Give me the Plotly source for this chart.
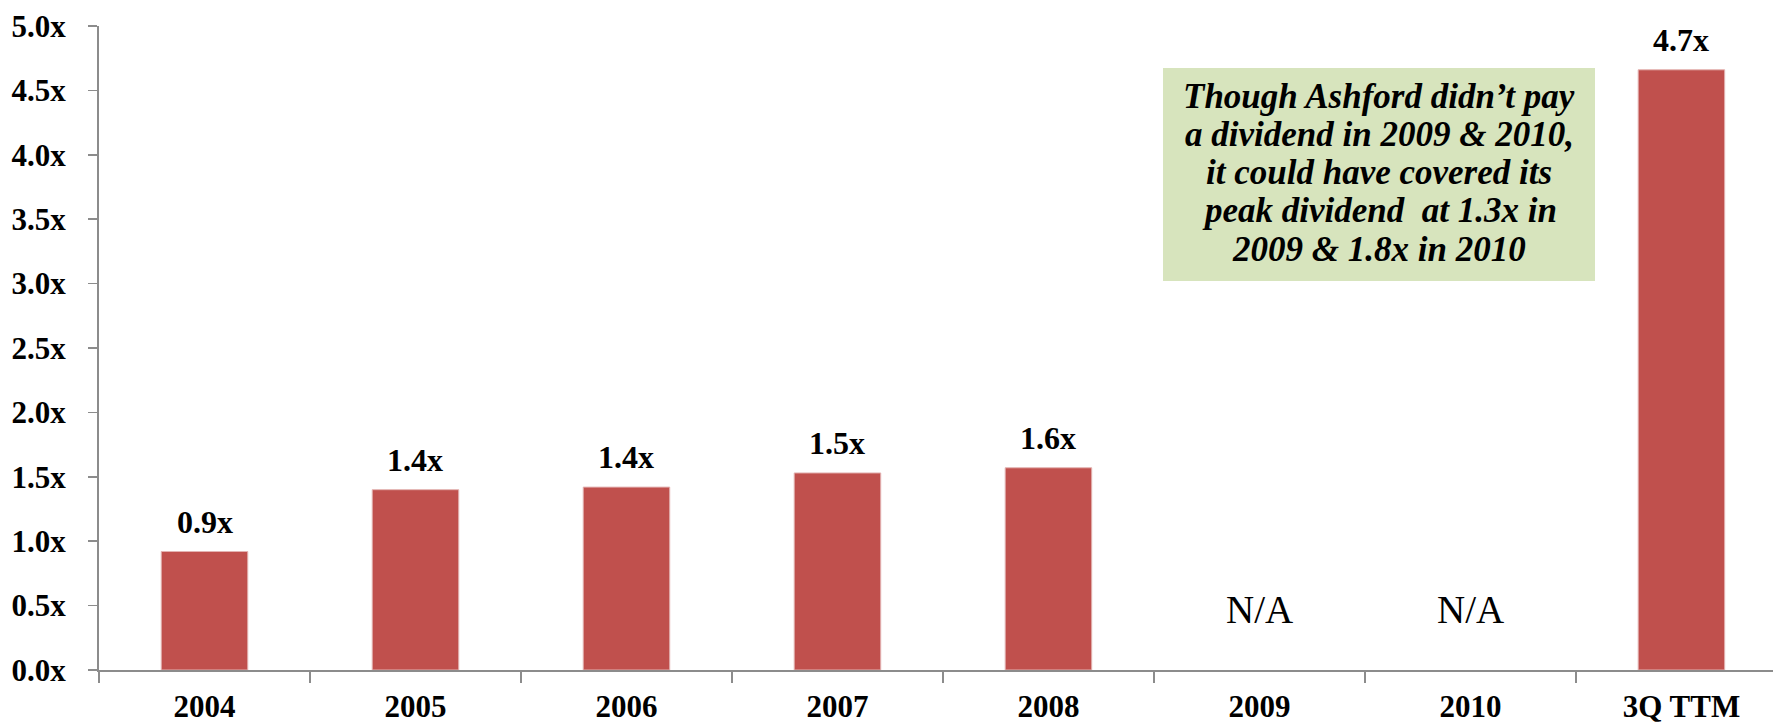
import plotly.graph_objects as go

categories = ["2004", "2005", "2006", "2007", "2008", "2009", "2010", "3Q TTM"]
coverage = [0.92, 1.40, 1.42, 1.53, 1.57, None, None, 4.66]
value_labels = ["0.9x", "1.4x", "1.4x", "1.5x", "1.6x", "N/A", "N/A", "4.7x"]
note_lines = [
    "Though Ashford didn’t pay",
    "a dividend in 2009 &amp; 2010,",
    "it could have covered its",
    "peak dividend  at 1.3x in",
    "2009 &amp; 1.8x in 2010",
]

BAR = "#C0504D"
AXIS = "#8C8C8C"
FONT = "Liberation Serif"

W, H = 1773, 724
ML, MR, MT, MB = 99, 0, 26, 54
plot_top, plot_bottom = MT, H - MB
plot_h = plot_bottom - plot_top
plot_w = W - ML - MR

fig = go.Figure()
fig.add_trace(go.Bar(
    x=categories,
    y=coverage,
    width=0.41,
    marker=dict(color=BAR, line=dict(color="#E3B3B2", width=1)),
    hoverinfo="skip",
))

annotations = []
for i, (val, lab) in enumerate(zip(coverage, value_labels)):
    if val is None:
        annotations.append(dict(
            x=i, y=0, xref="x", yref="y", text=lab, showarrow=False,
            yanchor="bottom", yshift=37,
            font=dict(family=FONT, size=39, color="black"),
        ))
    else:
        annotations.append(dict(
            x=i, y=val, xref="x", yref="y", text="<b>%s</b>" % lab, showarrow=False,
            yanchor="bottom", yshift=10,
            font=dict(family=FONT, size=32, color="black"),
        ))

# note box (figure pixel positions converted to paper coordinates)
def px_x(p):
    return (p - ML) / plot_w

def px_y(p):
    return (plot_bottom - p) / plot_h

box_x0, box_x1 = px_x(1163), px_x(1595)
box_y0, box_y1 = px_y(281), px_y(68)
fig.add_shape(type="rect", xref="paper", yref="paper",
              x0=box_x0, x1=box_x1, y0=box_y0, y1=box_y1,
              fillcolor="#D7E4BD", line=dict(width=0), layer="below")
line_centers_px = [96, 134, 172, 211, 249]
for txt, cy in zip(note_lines, line_centers_px):
    annotations.append(dict(
        x=(box_x0 + box_x1) / 2, y=px_y(cy), xref="paper", yref="paper",
        text="<b><i>%s</i></b>" % txt, showarrow=False,
        xanchor="center", yanchor="middle",
        font=dict(family=FONT, size=35, color="black"),
    ))

fig.update_layout(
    width=W, height=H,
    margin=dict(l=ML, r=MR, t=MT, b=MB, autoexpand=False),
    paper_bgcolor="white", plot_bgcolor="white",
    showlegend=False,
    annotations=annotations,
    font=dict(family=FONT, color="black"),
)
fig.update_xaxes(
    type="category", range=[-0.5, 7.434], automargin=False,
    showline=True, linecolor=AXIS, linewidth=2,
    ticks="outside", tickson="boundaries", ticklen=11, tickcolor=AXIS, tickwidth=1.5,
    tickfont=dict(family=FONT, size=31, color="black", weight="bold"),
    ticklabelstandoff=8,
    showgrid=False, zeroline=False, fixedrange=True,
)
fig.update_yaxes(
    range=[0, 5], dtick=0.5, tick0=0, tickformat=".1f", ticksuffix="x", automargin=False,
    showline=True, linecolor=AXIS, linewidth=2,
    ticks="outside", ticklen=9, tickcolor=AXIS, tickwidth=1.5,
    tickfont=dict(family=FONT, size=31, color="black", weight="bold"),
    ticklabelstandoff=16,
    showgrid=False, zeroline=False, fixedrange=True,
)

fig.write_html(
    "out.html",
    config={"displayModeBar": False, "staticPlot": True},
    post_script="document.body.style.margin='0';document.body.style.overflow='hidden';",
)
